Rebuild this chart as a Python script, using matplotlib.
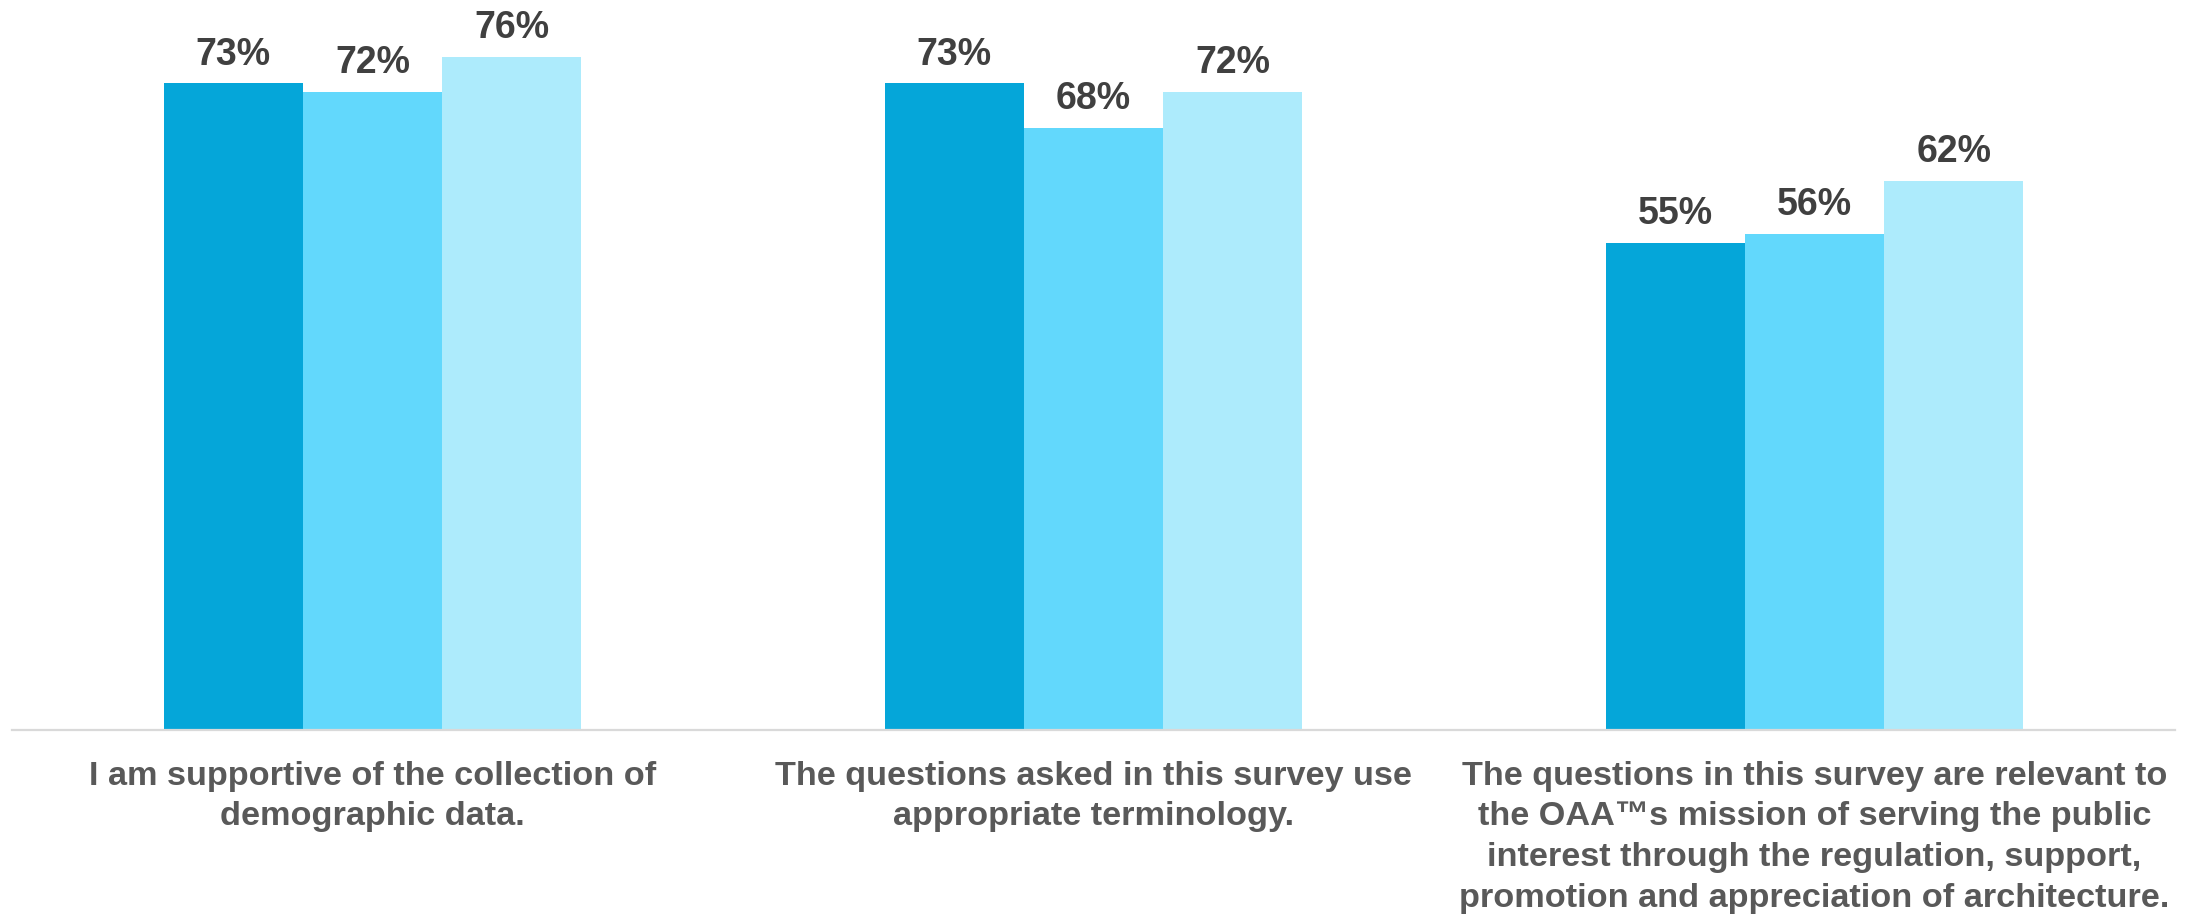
#!/usr/bin/env python
"""Grouped bar chart: agreement with three survey statements, three series."""
import matplotlib

matplotlib.use("Agg")
import matplotlib.pyplot as plt
import numpy as np

categories = [
    "I am supportive of the collection of\ndemographic data.",
    "The questions asked in this survey use\nappropriate terminology.",
    "The questions in this survey are relevant to\nthe OAA\u2122s mission of serving the public\n"
    "interest through the regulation, support,\npromotion and appreciation of architecture.",
]
series_1 = [73, 73, 55]
series_2 = [72, 68, 56]
series_3 = [76, 72, 62]
colors = ["#05A6D9", "#62D8FC", "#ADEBFC"]

plt.rcParams["font.family"] = ["Liberation Sans", "DejaVu Sans"]

fig = plt.figure(figsize=(21.99, 9.17), dpi=100)
ax = fig.add_axes([12 / 2199, 187 / 917, 2163 / 2199, 730 / 917])

x = np.arange(len(categories))
w = 0.193
for i, (vals, c) in enumerate(zip([series_1, series_2, series_3], colors)):
    bars = ax.bar(x + (i - 1) * w, vals, width=w, color=c, edgecolor="none")
    for b, v in zip(bars, vals):
        ax.annotate(f"{v}%", (b.get_x() + b.get_width() / 2, v),
                    xytext=(0, 13.5), textcoords="offset points",
                    ha="center", va="baseline", fontsize=27,
                    fontweight="bold", color="#404040")

# category labels: first baseline 55 px under the axis, ~40.5 px per line;
# va="baseline" pins the last line, so shift by the number of lines
for xi, label in zip(x, categories):
    n = label.count("\n")
    off_px = 55 + n * 40.5
    ax.annotate(label, (xi, 0), xycoords=("data", "axes fraction"),
                xytext=(0, -off_px * 0.72), textcoords="offset points",
                ha="center", va="baseline", multialignment="center",
                fontsize=24.7, fontweight="bold", color="#595959",
                linespacing=1.40, annotation_clip=False)

ax.set_xlim(-0.5, 2.5)
ax.set_ylim(0, 82.4)
ax.set_xticks([])
ax.set_yticks([])
for s in ["top", "left", "right"]:
    ax.spines[s].set_visible(False)
ax.spines["bottom"].set_color("#D9D9D9")
ax.spines["bottom"].set_linewidth(1.6)

fig.savefig("out.png", dpi=100)
